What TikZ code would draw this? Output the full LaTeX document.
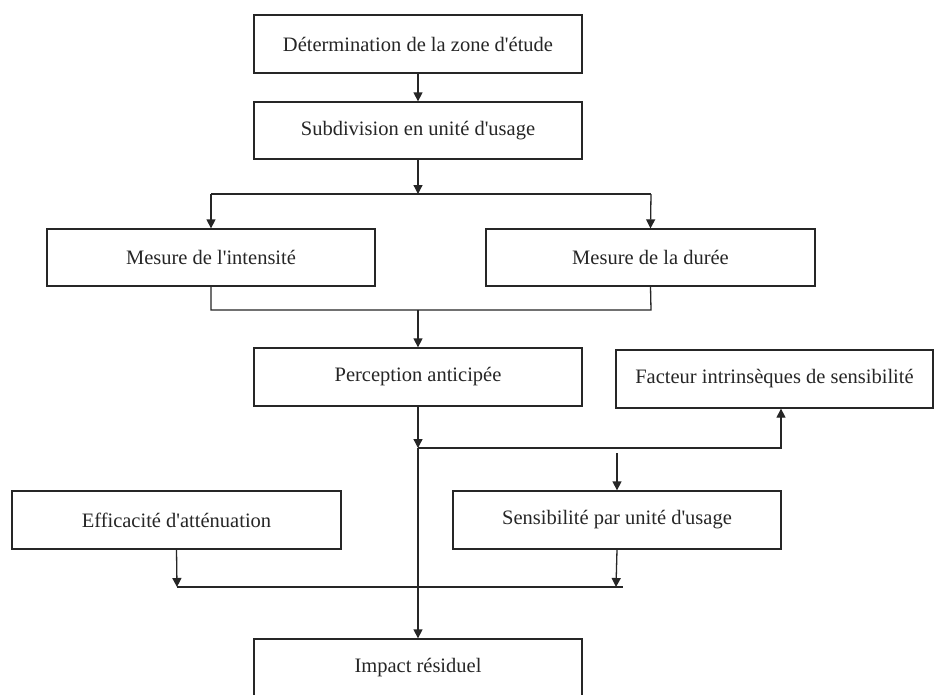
\documentclass[tikz,border=0pt]{standalone}
\usepackage{fontspec}
\setmainfont{Liberation Serif}[Ligatures=TeXOff]
\usetikzlibrary{arrows.meta,calc}
\begin{document}
\begin{tikzpicture}[x=1pt,y=-1pt,
  box/.style={draw=black!85,line width=1.3pt,rectangle,inner sep=0pt,
    font=\fontsize{20.5}{24}\selectfont,text=black!85},
  conn/.style={draw=black!85,line width=1.3pt},
  arr/.style={conn,-{Triangle[length=9pt,width=9pt]}}]
\useasboundingbox[fill=white] (0,0) rectangle (934,694);
% boxes
\node[box,minimum width=328pt,minimum height=58pt] (d1) at (418,44) {Détermination de la zone d'étude};
\node[box,minimum width=328pt,minimum height=57pt] (d2) at (418,130.5) {Subdivision en unité d'usage};
\node[box,minimum width=328pt,minimum height=57pt] (mi) at (211,257.5) {Mesure de l'intensité};
\node[box,minimum width=329pt,minimum height=57pt] (md) at (650.5,257.5) {Mesure de la durée};
\node[box,minimum width=328pt,minimum height=58pt] (pa) at (418,377) {Perception anticipée};
\node[box,minimum width=317pt,minimum height=58pt] (fi) at (774.5,379) {Facteur intrinsèques de sensibilité};
\node[box,minimum width=329pt,minimum height=58pt] (ea) at (176.5,520) {Efficacité d'atténuation};
\node[box,minimum width=328pt,minimum height=58pt] (su) at (617,520) {Sensibilité par unité d'usage};
\node[box,minimum width=328pt,minimum height=58pt] (ir) at (418,668) {Impact résiduel};
% junction coordinates
\coordinate (j1) at (418,194);
\coordinate (j1l) at (211,194);
\coordinate (j1r) at (651,194);
\coordinate (j2) at (418,310);
\coordinate (j2l) at (211,310);
\coordinate (j2r) at (651,310);
\coordinate (j3) at (418,448);
\coordinate (j3r) at (781,448);
\coordinate (s0) at (617,453);
\coordinate (j4l) at (177,587);
\coordinate (j4r) at (616,587);
\coordinate (j4e) at (623,587);
% connectors
\draw[arr] (d1.south) -- (d2.north);
\draw[arr] (d2.south) -- (j1);
\draw[conn] (j1l) -- (j1r);
\draw[arr] (j1l) -- (mi.north);
\draw[arr] (j1r) -- (md.north);
\draw[conn] (mi.south) -- (j2l) -- (j2r) -- (md.south);
\draw[arr] (j2) -- (pa.north);
\draw[arr] (pa.south) -- (j3);
\draw[arr] (j3) -- (j3r) -- (j3r |- fi.south);
\draw[arr] (j3) -- (ir.north);
\draw[arr] (s0) -- (su.north);
\draw[arr] (ea.south) -- (j4l);
\draw[arr] (su.south) -- (j4r);
\draw[conn] (j4l) -- (j4e);
\end{tikzpicture}
\end{document}
